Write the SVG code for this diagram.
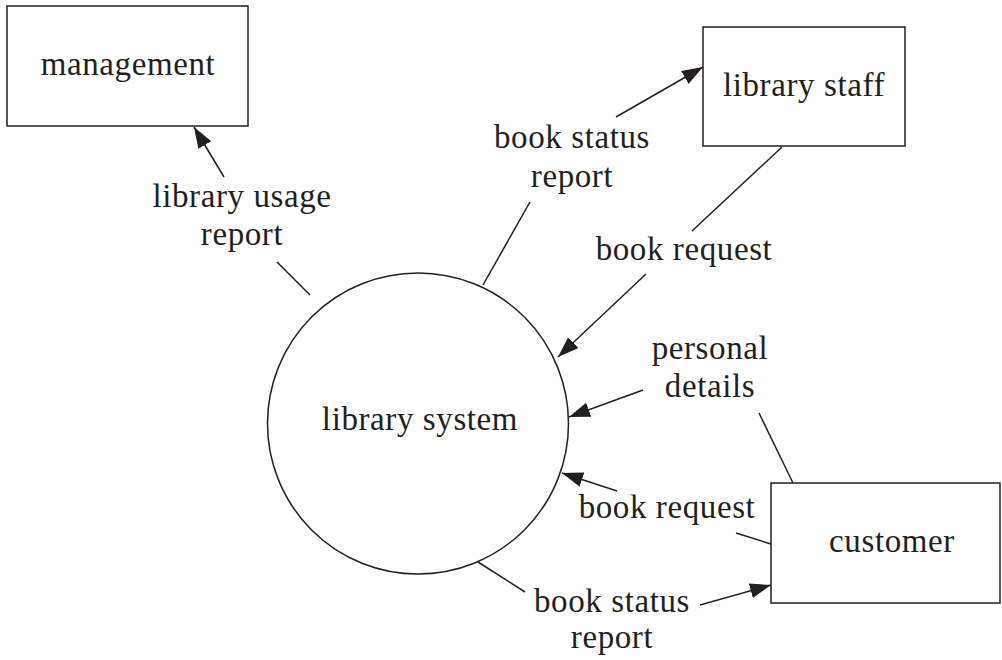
<svg xmlns="http://www.w3.org/2000/svg" width="1002" height="660" viewBox="0 0 1002 660">
  <style>
    .box { fill: #fff; stroke: #231f20; stroke-width: 1.5; }
    .flow { fill: none; stroke: #231f20; stroke-width: 1.5; }
    text { font-family: "Liberation Serif", "DejaVu Serif", serif; font-size: 33px; letter-spacing: 0.6px; fill: #231f20; text-anchor: middle; }
  </style>
  <defs>
    <marker id="arrow" markerUnits="userSpaceOnUse" markerWidth="24" markerHeight="16" refX="21" refY="7.5" orient="auto">
      <path d="M0,0 L21,7.5 L0,15 Z" fill="#231f20"/>
    </marker>
  </defs>

  <rect width="1002" height="660" fill="#fff"/>

  <g id="connectors">
    <!-- library usage report: system -> management -->
    <line class="flow" x1="310" y1="295" x2="277" y2="262"/>
    <line class="flow" x1="224" y1="177" x2="194" y2="127" marker-end="url(#arrow)"/>
    <!-- book status report: system -> library staff -->
    <line class="flow" x1="483" y1="285" x2="530" y2="202"/>
    <line class="flow" x1="616" y1="117" x2="703" y2="67" marker-end="url(#arrow)"/>
    <!-- book request: library staff -> system -->
    <line class="flow" x1="782" y1="147" x2="692" y2="231"/>
    <line class="flow" x1="646" y1="274" x2="558" y2="357" marker-end="url(#arrow)"/>
    <!-- personal details: customer -> system -->
    <line class="flow" x1="793" y1="483" x2="759" y2="413"/>
    <line class="flow" x1="643" y1="390" x2="569" y2="417" marker-end="url(#arrow)"/>
    <!-- book request: customer -> system -->
    <line class="flow" x1="771" y1="544" x2="736" y2="533"/>
    <line class="flow" x1="617" y1="491" x2="562" y2="473" marker-end="url(#arrow)"/>
    <!-- book status report: system -> customer -->
    <line class="flow" x1="478" y1="562" x2="525" y2="592"/>
    <line class="flow" x1="700" y1="605" x2="771" y2="585" marker-end="url(#arrow)"/>

    <text x="242" y="207">library usage</text>
    <text x="242" y="245">report</text>
    <text x="572" y="148">book status</text>
    <text x="572" y="187">report</text>
    <text x="684" y="260">book request</text>
    <text x="710" y="359">personal</text>
    <text x="710" y="397">details</text>
    <text x="667" y="518">book request</text>
    <text x="612" y="612">book status</text>
    <text x="612" y="648">report</text>
  </g>

  <g id="management">
    <rect class="box" x="7" y="6" width="241" height="120"/>
    <text x="128" y="75">management</text>
  </g>

  <g id="library-staff">
    <rect class="box" x="703" y="27" width="202" height="119"/>
    <text x="804" y="96">library staff</text>
  </g>

  <g id="library-system">
    <circle class="box" cx="418" cy="423.5" r="150.5"/>
    <text x="420" y="430">library system</text>
  </g>

  <g id="customer">
    <rect class="box" x="771" y="483" width="229" height="120"/>
    <text x="892" y="552">customer</text>
  </g>
</svg>
